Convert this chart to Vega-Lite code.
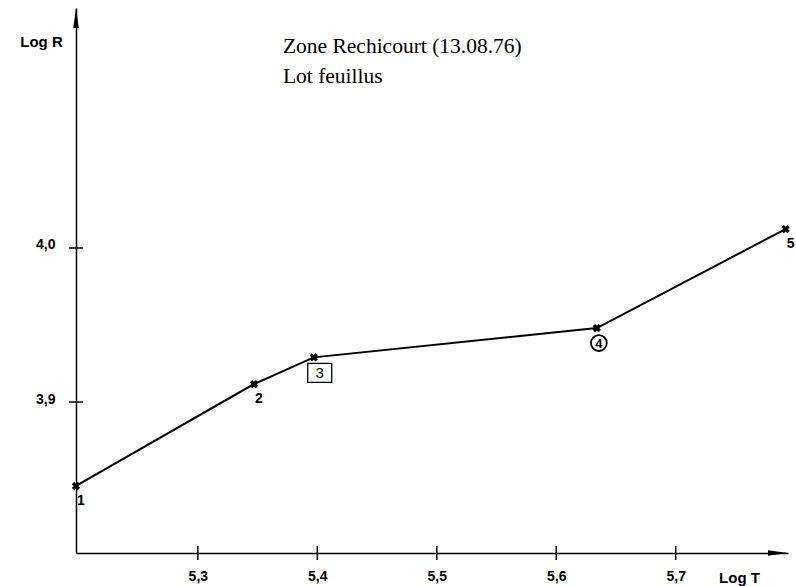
{
  "$schema": "https://vega.github.io/schema/vega-lite/v6.json",
  "width": 712,
  "height": 545,
  "autosize": {"type": "none"},
  "padding": {"left": 76, "top": 8, "right": 8, "bottom": 33},
  "background": "white",
  "config": {
    "view": {"stroke": null},
    "axis": {"grid": false, "domainColor": "black", "domainWidth": 1.5, "tickSize": 0,
             "labelFont": "Liberation Sans", "labelFontWeight": "bold", "labelFontSize": 14, "labelColor": "black",
             "titleFont": "Liberation Sans", "titleFontWeight": "bold", "titleFontSize": 15, "titleColor": "black"}
  },
  "datasets": {
    "mesures": [
      {"point": "1", "logT": 5.198, "logR": 3.8455},
      {"point": "2", "logT": 5.347, "logR": 3.9117},
      {"point": "3", "logT": 5.397, "logR": 3.929},
      {"point": "4", "logT": 5.634, "logR": 3.948},
      {"point": "5", "logT": 5.792, "logR": 4.0123}
    ],
    "graduationsT": [{"t": 5.3}, {"t": 5.4}, {"t": 5.5}, {"t": 5.6}, {"t": 5.7}],
    "graduationsR": [{"r": 3.9}, {"r": 4.0}],
    "unique": [{}]
  },
  "layer": [
    {
      "data": {"name": "mesures"},
      "mark": {"type": "line", "color": "black", "strokeWidth": 2},
      "encoding": {
        "x": {"field": "logT", "type": "quantitative",
              "scale": {"domain": [5.198, 5.794], "nice": false, "zero": false},
              "axis": {"values": [5.3, 5.4, 5.5, 5.6, 5.7], "labelPadding": 16,
                       "labelExpr": "replace(format(datum.value, '.1f'), '.', ',')",
                       "title": "Log T", "titleX": 663, "titleY": 24, "titleAlign": "center", "titleBaseline": "middle"}},
        "y": {"field": "logR", "type": "quantitative",
              "scale": {"domain": [3.802, 4.1558], "nice": false, "zero": false},
              "axis": {"values": [3.9, 4.0], "labelPadding": 21, "labelBaseline": "middle", "labelOffset": -3,
                       "labelExpr": "replace(format(datum.value, '.1f'), '.', ',')",
                       "title": "Log R", "titleAngle": 0, "titleX": -35, "titleY": 33, "titleAlign": "center", "titleBaseline": "middle"}}
      }
    },
    {
      "data": {"name": "mesures"},
      "mark": {"type": "point", "shape": "cross", "angle": 45, "size": 70, "filled": true, "color": "black", "opacity": 1},
      "encoding": {
        "x": {"field": "logT", "type": "quantitative"},
        "y": {"field": "logR", "type": "quantitative"}
      }
    },
    {
      "data": {"name": "mesures"},
      "transform": [{"filter": "datum.point == '1' || datum.point == '2' || datum.point == '5'"}],
      "mark": {"type": "text", "font": "Liberation Sans", "fontWeight": "bold", "fontSize": 14, "dx": 5, "dy": 15, "color": "black"},
      "encoding": {
        "x": {"field": "logT", "type": "quantitative"},
        "y": {"field": "logR", "type": "quantitative"},
        "text": {"field": "point"}
      }
    },
    {
      "data": {"name": "mesures"},
      "transform": [{"filter": "datum.point == '3'"}],
      "mark": {"type": "point", "shape": "M-1.2,-0.95L1.2,-0.95L1.2,0.95L-1.2,0.95Z", "size": 400,
               "filled": false, "stroke": "black", "strokeWidth": 1.3, "xOffset": 6, "yOffset": 15.5, "opacity": 1},
      "encoding": {
        "x": {"field": "logT", "type": "quantitative"},
        "y": {"field": "logR", "type": "quantitative"}
      }
    },
    {
      "data": {"name": "mesures"},
      "transform": [{"filter": "datum.point == '4'"}],
      "mark": {"type": "point", "shape": "circle", "size": 250,
               "filled": false, "stroke": "black", "strokeWidth": 1.8, "xOffset": 2, "yOffset": 15, "opacity": 1},
      "encoding": {
        "x": {"field": "logT", "type": "quantitative"},
        "y": {"field": "logR", "type": "quantitative"}
      }
    },
    {
      "data": {"name": "mesures"},
      "transform": [{"filter": "datum.point == '3'"}],
      "mark": {"type": "text", "font": "Liberation Sans", "fontSize": 15, "dx": 6, "dy": 16, "baseline": "middle", "align": "center", "color": "black"},
      "encoding": {
        "x": {"field": "logT", "type": "quantitative"},
        "y": {"field": "logR", "type": "quantitative"},
        "text": {"field": "point"}
      }
    },
    {
      "data": {"name": "mesures"},
      "transform": [{"filter": "datum.point == '4'"}],
      "mark": {"type": "text", "font": "Liberation Sans", "fontWeight": "bold", "fontSize": 13, "dx": 2, "dy": 15.5, "baseline": "middle", "align": "center", "color": "black"},
      "encoding": {
        "x": {"field": "logT", "type": "quantitative"},
        "y": {"field": "logR", "type": "quantitative"},
        "text": {"field": "point"}
      }
    },
    {
      "data": {"name": "graduationsT"},
      "mark": {"type": "tick", "orient": "vertical", "size": 14, "thickness": 1.5, "color": "black", "opacity": 1},
      "encoding": {
        "x": {"field": "t", "type": "quantitative"},
        "y": {"datum": 3.802}
      }
    },
    {
      "data": {"name": "graduationsR"},
      "mark": {"type": "tick", "orient": "horizontal", "size": 14, "thickness": 1.5, "color": "black", "opacity": 1},
      "encoding": {
        "y": {"field": "r", "type": "quantitative"},
        "x": {"datum": 5.198}
      }
    },
    {
      "data": {"name": "unique"},
      "mark": {"type": "point", "shape": "M0,-1L0.28,1L-0.28,1Z", "size": 400, "filled": true, "color": "black", "opacity": 1, "yOffset": 10},
      "encoding": {"x": {"datum": 5.198}, "y": {"datum": 4.1558}}
    },
    {
      "data": {"name": "unique"},
      "mark": {"type": "point", "shape": "M0,-1L0.28,1L-0.28,1Z", "size": 400, "angle": 90, "filled": true, "color": "black", "opacity": 1, "xOffset": -10},
      "encoding": {"x": {"datum": 5.794}, "y": {"datum": 3.802}}
    },
    {
      "data": {"name": "unique"},
      "mark": {"type": "text", "font": "Liberation Serif", "fontSize": 21.5, "align": "left", "baseline": "middle", "color": "black"},
      "encoding": {"x": {"datum": 5.3712}, "y": {"datum": 4.1305}, "text": {"value": "Zone Rechicourt (13.08.76)"}}
    },
    {
      "data": {"name": "unique"},
      "mark": {"type": "text", "font": "Liberation Serif", "fontSize": 21.5, "align": "left", "baseline": "middle", "color": "black"},
      "encoding": {"x": {"datum": 5.3712}, "y": {"datum": 4.111}, "text": {"value": "Lot feuillus"}}
    }
  ]
}
